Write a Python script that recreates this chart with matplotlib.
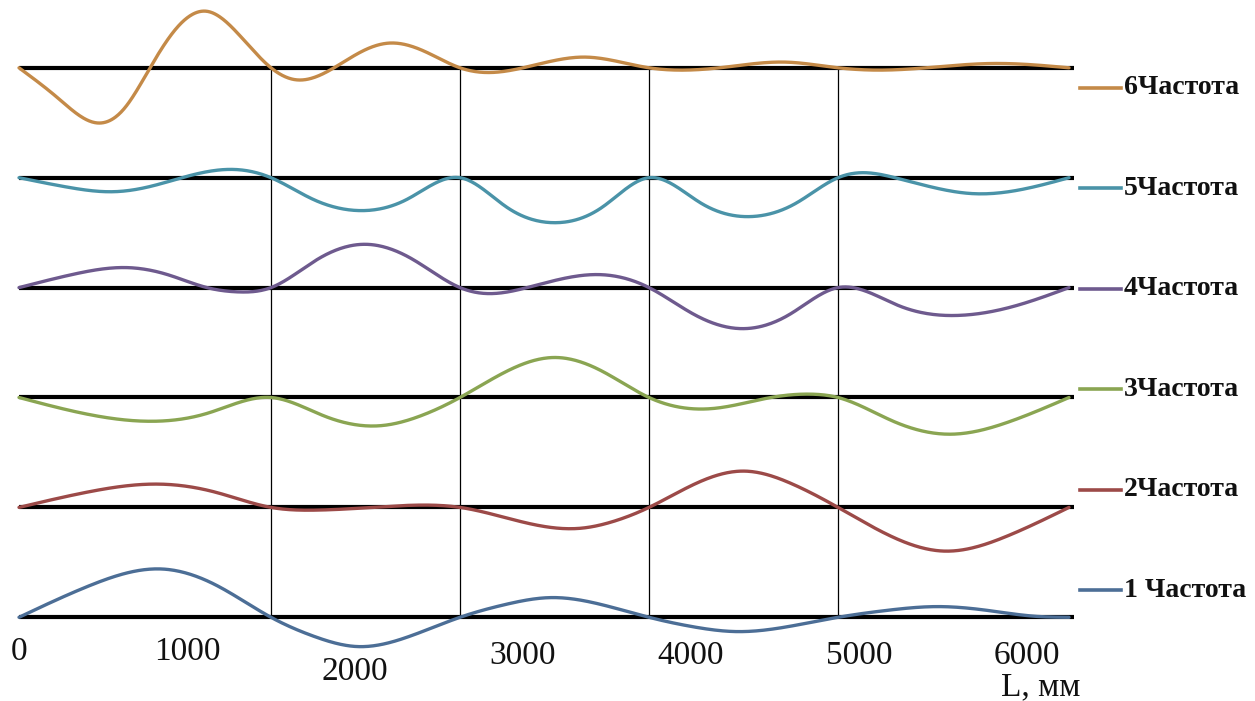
import numpy as np
import matplotlib
matplotlib.use("Agg")
import matplotlib.pyplot as plt

# ---------------- data (L in mm, relative amplitude) ----------------
labels = ["1 Частота", "2Частота", "3Частота", "4Частота", "5Частота", "6Частота"]

mode1_L = [0, 425, 851, 1175, 1500, 1760, 2018, 2320, 2625, 2900, 3167, 3460, 3750,
           4010, 4274, 4575, 4875, 5170, 5464, 5760, 6050, 6250]
mode1_A = [0, 32, 48.3, 32, 0, -19.3, -29.3, -19.3, 0, 13, 19.7, 13, 0,
           -9.4, -14.3, -9.4, 0, 7, 10.7, 7, 1, 0]

mode2_L = [0, 410, 827, 1165, 1500, 1774, 2101, 2387, 2625, 2980, 3333, 3540, 3750,
           4030, 4315, 4595, 4875, 5190, 5506, 5880, 6250]
mode2_A = [0, 15.4, 23.3, 15.4, 0, -2.7, 0, 2.3, 0, -13.9, -21.0, -13.9, 0,
           24, 36.3, 24, 0, -28.8, -43.7, -28.8, 0]

mode3_L = [0, 375, 750, 1125, 1500, 1820, 2143, 2385, 2625, 2905, 3185, 3470, 3750,
           4131, 4476, 4726, 4875, 5210, 5542, 5895, 6250]
mode3_A = [0, -15.6, -23.7, -15.6, 0, -18.7, -28.3, -18.7, 0, 26.4, 40.0, 26.4, 0,
           -11.0, 0, 3.3, 0, -24.2, -36.7, -24.2, 0]

mode4_L = [0, 320, 643, 880, 1119, 1304, 1500, 1780, 2060, 2340, 2625, 2798, 3024, 3452,
           3750, 4020, 4292, 4585, 4875, 5240, 5607, 5930, 6250]
mode4_A = [0, 13.2, 20.0, 13.2, 0, -4.3, 0, 28.6, 43.3, 28.6, 0, -6.0, 0, 13.0,
           0, -27, -41.0, -27, 0, -18.3, -27.7, -18.3, 0]

mode5_L = [0, 280, 565, 770, 970, 1262, 1500, 1750, 2000, 2310, 2625, 2905, 3185, 3470,
           3750, 4060, 4375, 4625, 4875, 5030, 5214, 5685, 6250]
mode5_A = [0, -9.2, -14.0, -9.2, 0, 8.3, 0, -21.6, -32.7, -21.6, 0, -29.7, -45.0, -29.7,
           0, -25.5, -38.7, -25.5, 0, 5.0, 0, -16.0, 0]

mode6_L = [0, 230, 458, 620, 780, 950, 1119, 1310, 1500, 1649, 1875, 2040, 2202, 2420, 2625,
           2780, 3000, 3369, 3750, 3923, 4170, 4560, 4875, 5137, 5400, 5792, 6250]
mode6_A = [0, -30, -55.0, -42, 0, 42, 56.5, 33, 0, -12.0, 0, 16.3, 24.7, 16, 0,
           -4.7, 0, 10.7, 0, -2.3, 0, 5.7, 0, -2.3, 0, 4.3, 0]

supports_L = [1500, 2625, 3750, 4875]
beam_end_L = 6250

tick_values = [0, 1000, 2000, 3000, 4000, 5000, 6000]
tick_labels = ["0", "1000", "2000", "3000", "4000", "5000", "6000"]
axis_label = "L, мм"

# ---------------- style ----------------
colors = ["#4C6E96", "#9C4A48", "#8AA552", "#6E5A8E", "#4A93A8", "#C48A48"]
modes = [(mode1_L, mode1_A), (mode2_L, mode2_A), (mode3_L, mode3_A),
         (mode4_L, mode4_A), (mode5_L, mode5_A), (mode6_L, mode6_A)]

spacing = 109.9  # vertical spacing between baselines (amplitude units)

fig = plt.figure(figsize=(12.55, 7.01), dpi=100)
ax = fig.add_axes([0, 0, 1, 1])
ax.set_xlim(-113.1, 7357.1)
ax.set_ylim(-83.7, 617.3)
ax.axis("off")


def smooth_line(xs, ys, per_seg=40):
    """Natural cubic spline through the read points (smoothed-line rendering)."""
    x = np.asarray(xs, float)
    y = np.asarray(ys, float)
    n = len(x)
    h = np.diff(x)
    A = np.zeros((n, n))
    b = np.zeros(n)
    A[0, 0] = A[-1, -1] = 1.0
    for i in range(1, n - 1):
        A[i, i - 1] = h[i - 1]
        A[i, i] = 2 * (h[i - 1] + h[i])
        A[i, i + 1] = h[i]
        b[i] = 6 * ((y[i + 1] - y[i]) / h[i] - (y[i] - y[i - 1]) / h[i - 1])
    M = np.linalg.solve(A, b)
    X, Y = [], []
    for i in range(n - 1):
        t = np.linspace(0, 1, per_seg, endpoint=(i == n - 2))
        xx = x[i] + t * h[i]
        a = x[i + 1] - xx
        c = xx - x[i]
        yy = (M[i] * a ** 3 + M[i + 1] * c ** 3) / (6 * h[i]) \
            + (y[i] / h[i] - M[i] * h[i] / 6) * a \
            + (y[i + 1] / h[i] - M[i + 1] * h[i] / 6) * c
        X.append(xx)
        Y.append(yy)
    return np.concatenate(X), np.concatenate(Y)


top = spacing * 5
# vertical support lines
for s in supports_L:
    ax.plot([s, s], [0, top], color="black", lw=0.9, zorder=1)

# baselines
for k in range(6):
    ax.plot([0, beam_end_L + 30], [k * spacing, k * spacing], color="black",
            lw=3.0, solid_capstyle="butt", zorder=2)

# curves
for k, (Ls, As) in enumerate(modes):
    sx, sy = smooth_line(Ls, As)
    ax.plot(sx, sy + k * spacing, color=colors[k], lw=2.4, zorder=3,
            solid_capstyle="round", solid_joinstyle="round")

# legend (right side)
leg_x0, leg_x1, leg_tx = 6315, 6560, 6575
for k in range(6):
    yy = 27.0 + 100.5 * k
    ax.plot([leg_x0, leg_x1], [yy, yy], color=colors[k], lw=2.6, zorder=3)
    ax.text(leg_tx, yy, labels[k], fontsize=20, fontweight="bold",
            family="Liberation Serif", va="center", ha="left", color="#111111")

# tick labels
tick_y = [-34.0, -34.0, -54.0, -38.5, -38.5, -38.5, -38.5]
for v, lab, ty in zip(tick_values, tick_labels, tick_y):
    ax.text(v, ty, lab, fontsize=24, family="Liberation Serif", ha="center",
            va="center", color="#111111")

ax.text(6080, -70, axis_label, fontsize=24, family="Liberation Serif",
        ha="center", va="center", color="#111111")

fig.savefig("out.png", dpi=100)
